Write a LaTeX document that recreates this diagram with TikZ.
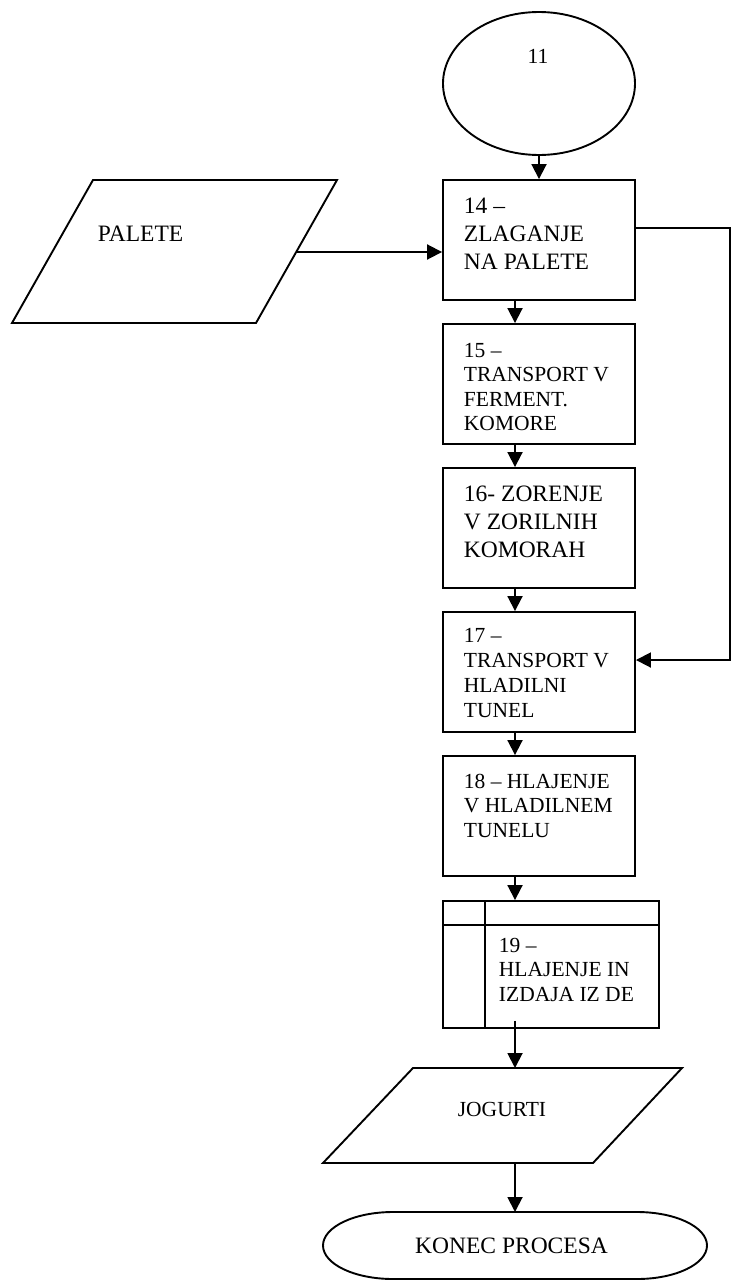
\documentclass[tikz,border=0pt]{standalone}
\usepackage{fontspec}
\setmainfont{Liberation Serif}
\usetikzlibrary{arrows.meta,shapes.geometric,calc}
\begin{document}
\begin{tikzpicture}[x=1pt,y=1pt,
  line width=1.9pt,
  arr/.style={-{Triangle[length=15pt,width=15pt]}},
  box/.style={draw,rectangle,minimum width=192pt,minimum height=120pt,inner sep=0pt},
  txt/.style={anchor=north west,inner sep=0pt,align=left},
  lbl/.style={inner sep=0pt,font=\fontsize{21.5}{25}\selectfont}]
\useasboundingbox (0,0) rectangle (732,-1282);
\coordinate (ax) at (515,0);
% start ellipse
\node[draw,ellipse,minimum width=192pt,minimum height=143pt,inner sep=0pt] (e11) at (539,-83.5) {};
\node[lbl,anchor=base] (t11) at (538,-63) {11};
% process boxes
\node[box] (b14) at (539,-240) {};
\node[txt,font=\fontsize{23.5}{28}\selectfont] (t14) at (463,-197) {14 –\\ZLAGANJE\\NA PALETE};
\node[box] (b15) at (539,-384) {};
\node[txt,font=\fontsize{21.5}{24.5}\selectfont] (t15) at (463,-342) {15 –\\TRANSPORT V\\FERMENT.\\KOMORE};
\node[box] (b16) at (539,-528) {};
\node[txt,font=\fontsize{23.5}{28}\selectfont] (t16) at (463,-485) {16- ZORENJE\\V ZORILNIH\\KOMORAH};
\node[box] (b17) at (539,-672) {};
\node[txt,font=\fontsize{21.5}{25}\selectfont] (t17) at (463,-627) {17 –\\TRANSPORT V\\HLADILNI\\TUNEL};
\node[box] (b18) at (539,-816) {};
\node[txt,font=\fontsize{21.5}{24.5}\selectfont] (t18) at (463,-773) {18 – HLAJENJE\\V HLADILNEM\\TUNELU};
\node[box,minimum width=216pt,minimum height=127pt] (b19) at (551,-964.5) {};
\draw (b19.north west |- 0,-925) -- (b19.north east |- 0,-925);
\draw (485,0 |- b19.north) -- (485,0 |- b19.south);
\node[txt,font=\fontsize{21.5}{24.5}\selectfont] (t19) at (498,-937) {19 –\\HLAJENJE IN\\IZDAJA IZ DE};
% PALETE input
\draw (93,-180) -- (337,-180) -- (256,-323) -- (12,-323) -- cycle;
\coordinate (palR) at (296,-252);
\node[inner sep=0pt,anchor=north west,font=\fontsize{23.5}{28}\selectfont] (tpal) at (97,-225) {PALETE};
% JOGURTI output
\draw (413,-1068) -- (682,-1068) -- (593,-1163) -- (323,-1163) -- cycle;
\coordinate (jogT) at (515,-1068);
\coordinate (jogB) at (515,-1163);
\node[lbl,anchor=base] (tjog) at (502,-1116) {JOGURTI};
% end terminal
\draw (393,-1212) -- (637,-1212) arc[start angle=90,end angle=-90,x radius=70,y radius=33.5]
  -- (393,-1279) arc[start angle=-90,end angle=-270,x radius=70,y radius=33.5] -- cycle;
\coordinate (endT) at (515,-1212);
\node[inner sep=0pt,anchor=base,font=\fontsize{23.5}{28}\selectfont] (tend) at (511.5,-1253) {KONEC PROCESA};
% connectors
\draw[arr] (e11.south) -- (b14.north);
\draw[arr] (palR) -- (palR -| b14.west);
\draw[arr] (b14.south -| ax) -- (b15.north -| ax);
\draw[arr] (b15.south -| ax) -- (b16.north -| ax);
\draw[arr] (b16.south -| ax) -- (b17.north -| ax);
\draw[arr] (b17.south -| ax) -- (b18.north -| ax);
\draw[arr] (b18.south -| ax) -- (b19.north -| ax);
\draw[arr] ($(b19.south -| ax)+(0,8)$) -- (jogT);
\draw[arr] (jogB) -- (endT);
\coordinate (fbR) at (730,-228);
\draw[arr] ($(b14.east)+(0,12)$) -- (fbR) -- (fbR |- 0,-660) -- ($(b17.east)+(0,12)$);
\end{tikzpicture}
\end{document}
